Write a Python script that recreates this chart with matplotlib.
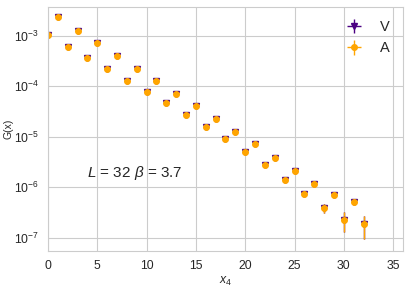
import numpy as np
import matplotlib
matplotlib.use("Agg")
import matplotlib.pyplot as plt
import seaborn as sns

# correlator data
x4 = list(range(33))
G_V = [1.05e-3, 2.35e-3, 6.1e-4, 1.26e-3, 3.7e-4, 7.2e-4, 2.2e-4, 3.9e-4,
       1.28e-4, 2.2e-4, 7.7e-5, 1.28e-4, 4.6e-5, 7.1e-5, 2.7e-5, 4.1e-5,
       1.55e-5, 2.3e-5, 8.9e-6, 1.25e-5, 5.0e-6, 7.1e-6, 2.8e-6, 3.8e-6,
       1.4e-6, 2.06e-6, 7.4e-7, 1.19e-6, 3.9e-7, 6.9e-7, 2.3e-7, 5.1e-7, 1.86e-7]
G_A = list(G_V)
err_V = [2e-5, 4e-5, 1.5e-5, 3e-5, 1e-5, 2e-5, 7e-6, 1.2e-5,
         5e-6, 8e-6, 3e-6, 5e-6, 2e-6, 3e-6, 1.3e-6, 2e-6,
         8e-7, 1.2e-6, 5e-7, 7e-7, 3e-7, 4e-7, 2e-7, 2.5e-7,
         1e-7, 1.4e-7, 6e-8, 8e-8, 8e-8, 6e-8, 1e-7, 6e-8, 9e-8]
err_A = list(err_V)
label_text = r"$L$ = 32 $\beta$ = 3.7"

sns.set_style("whitegrid")
plt.rcParams["font.family"] = ["Liberation Sans", "DejaVu Sans"]
plt.rcParams["mathtext.fontset"] = "custom"
plt.rcParams["mathtext.rm"] = "Liberation Sans"
plt.rcParams["mathtext.it"] = "Liberation Sans:italic"

fig = plt.figure(figsize=(4.11, 2.88), dpi=100)
ax = fig.add_axes([0.1168, 0.1285, 0.8637, 0.8472])

ax.errorbar(x4, G_V, yerr=err_V, xerr=0, fmt="v", color="indigo",
            markersize=5, elinewidth=1.0, label="V")
ax.errorbar(x4, G_A, yerr=err_A, xerr=0, fmt="o", color="orange",
            markersize=4, elinewidth=1.0, label="A")

ax.set_yscale("log")
ax.set_xlim(0, 36)
ax.set_ylim(5.5e-8, 3.7e-3)
ax.set_xticks(range(0, 36, 5))
ax.tick_params(labelsize=8.8, pad=3)
ax.set_xlabel(r"$x_4$", fontsize=8.8, labelpad=2)
ax.set_ylabel("G(x)", fontsize=7.5)
ax.yaxis.set_label_coords(-0.098, 0.5)
ax.text(4.0, 1.6e-6, label_text, fontsize=11)
ax.legend(loc="upper right", fontsize=10.5, frameon=False)

fig.savefig("out.png", dpi=100)
